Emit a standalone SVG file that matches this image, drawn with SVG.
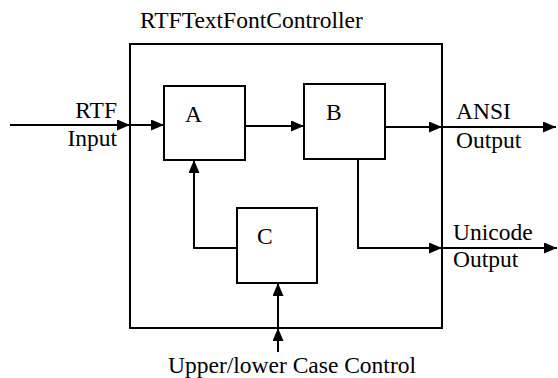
<svg xmlns="http://www.w3.org/2000/svg" width="558" height="378" viewBox="0 0 558 378">
<style>
.box{fill:none;stroke:#000;stroke-width:2}
.ln{fill:none;stroke:#000;stroke-width:2}
.t{font-family:'Liberation Serif','Times New Roman',Times,serif;font-size:23.5px;fill:#000}
</style>
<defs>
<marker id="ah" markerUnits="userSpaceOnUse" markerWidth="14" markerHeight="12" refX="13" refY="5.5" orient="auto">
<path d="M0,0 L13,5.5 L0,11 z" fill="#000"/>
</marker>
</defs>
<rect width="558" height="378" fill="#fff"/>
<g id="controller">
<rect class="box" x="130" y="44" width="312" height="284"/>
<text class="t" x="140" y="28">RTFTextFontController</text>
</g>
<g id="A">
<rect class="box" x="164" y="86" width="81" height="74"/>
<text class="t" x="185" y="122">A</text>
</g>
<g id="B">
<rect class="box" x="304" y="84" width="81" height="75"/>
<text class="t" x="326" y="120">B</text>
</g>
<g id="C">
<rect class="box" x="237" y="208" width="80" height="75"/>
<text class="t" x="257" y="244">C</text>
</g>
<g id="labels">
<text class="t" x="117" y="118" text-anchor="end">RTF</text>
<text class="t" x="117" y="146" text-anchor="end">Input</text>
<text class="t" x="456" y="119">ANSI</text>
<text class="t" x="456" y="148">Output</text>
<text class="t" x="453" y="240">Unicode</text>
<text class="t" x="453" y="267">Output</text>
<text class="t" x="168" y="373">Upper/lower Case Control</text>
</g>
<g id="connectors">
<path class="ln" d="M10,125 H130" marker-end="url(#ah)"/>
<path class="ln" d="M130,125 H164" marker-end="url(#ah)"/>
<path class="ln" d="M245,126 H304" marker-end="url(#ah)"/>
<path class="ln" d="M385,127 H442" marker-end="url(#ah)"/>
<path class="ln" d="M442,127 H556" marker-end="url(#ah)"/>
<path class="ln" d="M358,159 V248 H442" marker-end="url(#ah)"/>
<path class="ln" d="M442,248 H557" marker-end="url(#ah)"/>
<path class="ln" d="M237,248 H194 V160" marker-end="url(#ah)"/>
<path class="ln" d="M278,352 V328" marker-end="url(#ah)"/>
<path class="ln" d="M278,328 V283" marker-end="url(#ah)"/>
</g>
</svg>
